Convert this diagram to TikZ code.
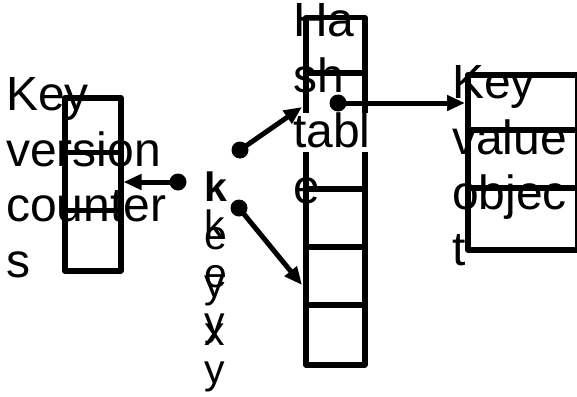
\documentclass[tikz,border=0pt]{standalone}
\usepackage{fontspec}
\setmainfont{Liberation Sans}
\usetikzlibrary{arrows.meta}
\begin{document}
\begin{tikzpicture}[x=1pt,y=-1pt,
  bigtext/.style={font=\fontsize{48}{55.5}\selectfont, align=left, inner sep=0pt, anchor=north west},
  keytext/.style={font=\fontsize{41}{48}\selectfont, align=left, inner sep=0pt, anchor=north west},
  frame/.style={draw, line width=5.5pt, line join=round, inner sep=0pt, anchor=north west},
  divider/.style={line width=5.5pt},
  dot/.style={circle, fill, inner sep=0pt, minimum size=17pt},
  link/.style={line width=5pt, -{Triangle[length=18pt,width=15pt]}}
]
\useasboundingbox (0,0) rectangle (577,396);

% key version counters
\node[frame, minimum width=56pt, minimum height=173pt] (kvc) at (62,95) {};
\draw[divider] (62,152.7) -- (118,152.7);
\draw[divider] (62,210.3) -- (118,210.3);

% hash table
\node[frame, minimum width=59pt, minimum height=347pt] (hash) at (303,15) {};
\foreach \yy in {73,189,247,305} \draw[divider] (303,\yy) -- (362,\yy);
% the third line of the hash table's title sits on a white strip
\fill[white] (296,113) rectangle (372,152);

% key value object
\node[frame, minimum width=110pt, minimum height=175pt] (kvo) at (465,72) {};
\draw[divider] (465,130) -- (575,130);
\draw[divider] (465,188) -- (575,188);

% labels
\node[bigtext] (kvclabel) at (6,77.5) {Key\\version\\counter\\s};
\node[bigtext] (hashlabel) at (293,3.5) {Ha\\sh\\tabl\\e};
\node[bigtext] (kvolabel) at (452,65.5) {Key\\value\\objec\\t};
\node[keytext] (keyx) at (204,172) {\textbf{k}\\e\\y\\x};
\node[keytext] (keyy) at (204,210) {k\\e\\y\\y};

% pointers
\node[dot] (d1) at (178,182) {};
\node[dot] (d2) at (240,150) {};
\node[dot] (d3) at (239,208) {};
\node[dot] (d4) at (338,103) {};

\coordinate (t2) at (302,107);
\coordinate (t3) at (302,285);

\draw[link] (d1.center) -- (kvc.east |- d1);
\draw[link] (d2.center) -- (t2);
\draw[link] (d3.center) -- (t3);
\draw[link] (d4.center) -- (kvo.west |- d4);
\end{tikzpicture}
\end{document}
